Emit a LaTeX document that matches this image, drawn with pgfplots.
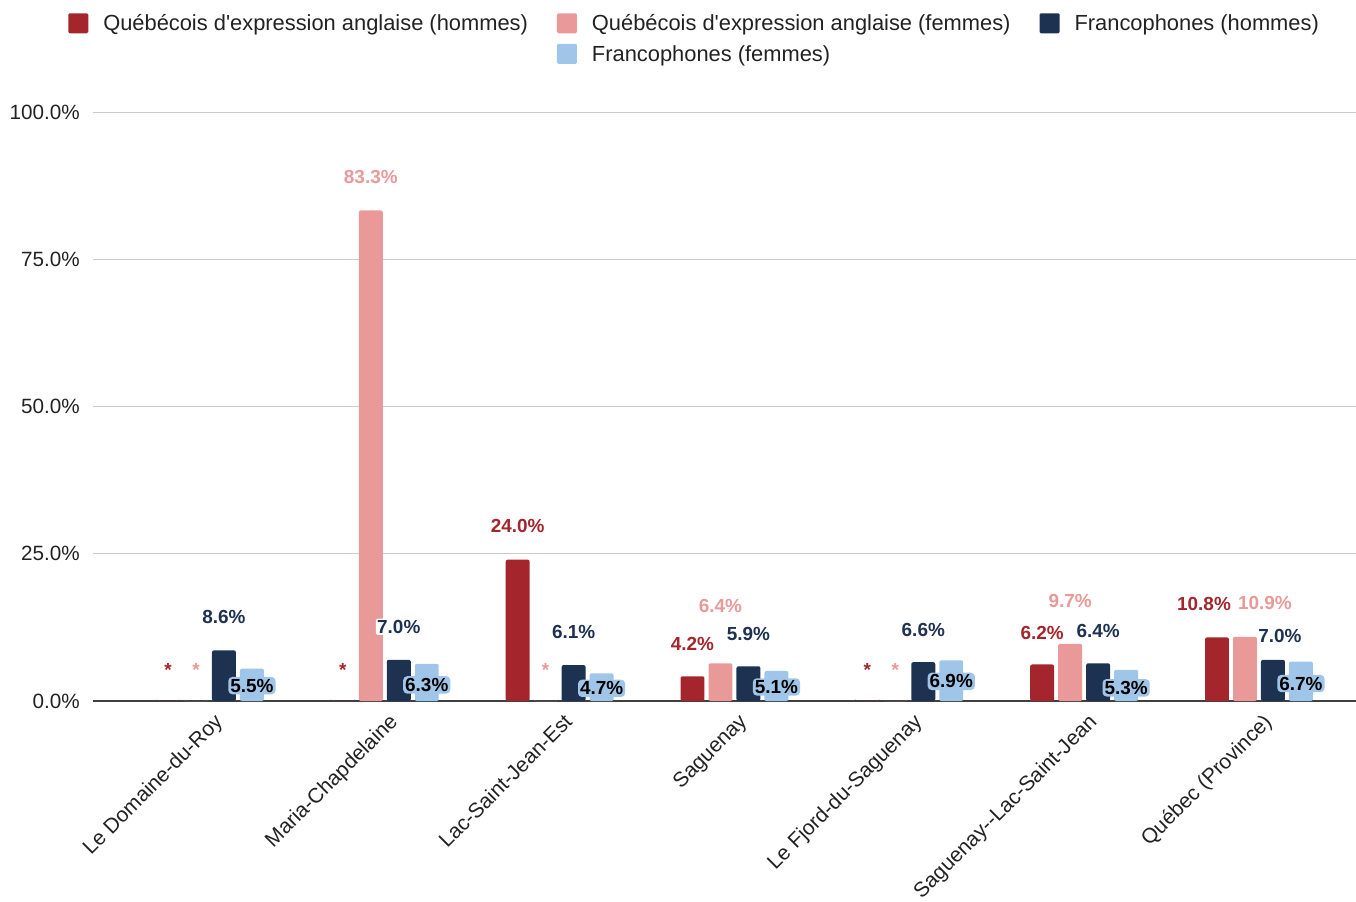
\documentclass[border=0pt]{standalone}
\usepackage{fontspec}
\setmainfont{Liberation Sans}
\usepackage{pgfplots}
\usepackage{pgfplotstable}
\pgfplotsset{compat=1.18}

\definecolor{cr}{HTML}{A4262C}
\definecolor{cp}{HTML}{EA9999}
\definecolor{cn}{HTML}{1D3150}
\definecolor{cl}{HTML}{9FC5E8}
\definecolor{txt}{HTML}{222222}
\newcommand\labfont{\fontsize{14.2}{16}\selectfont\bfseries}

% values in %, label text, label offsets in px (y up, x right)
\pgfplotstableread{
x r p n l rl pl nl ll ro po no lo rx px nx
0 0 0 8.6 5.5 * * 8.6\% 5.5\% 31 31 33 -17 0 0 0
1 0 83.3 7.0 6.3 * 83.3\% 7.0\% 6.3\% 31 33 33 -21 0 0 0
2 24.0 0 6.1 4.7 24.0\% * 6.1\% 4.7\% 34 31 33 -15 0 0 0
3 4.2 6.4 5.9 5.1 4.2\% 6.4\% 5.9\% 5.1\% 32 57 32 -16 0 0 0
4 0 0 6.6 6.9 * * 6.6\% 6.9\% 31 31 32 -21 0 0 0
5 6.2 9.7 6.4 5.3 6.2\% 9.7\% 6.4\% 5.3\% 32 43 32 -18 0 0 0
6 10.8 10.9 7.0 6.7 10.8\% 10.9\% 7.0\% 6.7\% 33 34 24 -22 -13 20 7
}\data

\begin{document}
\begin{tikzpicture}
\begin{axis}[
  scale only axis, width=947.25pt, height=441.75pt,
  ybar, bar width=0.137,
  xmin=-0.669, xmax=6.555, ymin=0, ymax=100,
  axis line style={draw=none},
  major tick length=0pt,
  ytick={0,25,50,75,100},
  ymajorgrids, grid style={draw=black!20, line width=0.75pt},
  extra y ticks={0}, extra y tick labels={},
  extra y tick style={grid style={draw=black!75, line width=1.2pt}},
  yticklabel={\pgfmathprintnumber[fixed,fixed zerofill,precision=1]{\tick}\%},
  /pgf/number format/assume math mode=true,
  yticklabel style={font=\fontsize{15.5}{18}\selectfont, text=txt, anchor=east, inner sep=0pt, xshift=-9.75pt},
  xtick={0,...,6},
  xticklabels={Le Domaine-du-Roy, Maria-Chapdelaine, Lac-Saint-Jean-Est, Saguenay, Le Fjord-du-Saguenay, Saguenay{-}{-}Lac-Saint-Jean, Québec (Province)},
  xticklabel style={font=\fontsize{15.7}{18}\selectfont, text=txt, xshift=2.25pt, yshift=-8.25pt, rotate=45, anchor=north east, inner sep=0pt},
  legend columns=3,
  legend cell align=left,
  legend style={at={(0,1)}, anchor=north west, xshift=-18.75pt, yshift=74.25pt,
    draw=none, fill=none, inner sep=0pt, text=txt,
    font=\fontsize{16.4}{19}\selectfont, row sep=7.75pt,
    nodes={inner sep=0pt, text height=0.72em, text depth=0.21em},
    /tikz/every odd column/.append style={column sep=11.25pt},
    /tikz/every even column/.append style={column sep=21.75pt}},
  legend image code/.code={\fill[#1, rounded corners=1pt] (0pt,-4.5pt) rectangle (15pt,10.5pt);},
]
\addplot[draw=none, fill=cr, bar shift=-0.24, rounded corners=1.5pt,
  point meta=explicit symbolic, nodes near coords,
  visualization depends on={\thisrow{ro} \as \myoff},
  visualization depends on={\thisrow{rx} \as \myx},
  every node near coord/.append style={font=\labfont, text=cr, fill=white, inner sep=1pt,
    anchor=center, yshift=\myoff*0.75pt, xshift=\myx*0.75pt}]
  table[x=x, y=r, meta=rl] {\data};
\addlegendentry{Québécois d\textquotesingle expression anglaise (hommes)}
\addplot[draw=none, fill=cp, bar shift=-0.08, rounded corners=1.5pt,
  point meta=explicit symbolic, nodes near coords,
  visualization depends on={\thisrow{po} \as \myoff},
  visualization depends on={\thisrow{px} \as \myx},
  every node near coord/.append style={font=\labfont, text=cp, fill=white, inner sep=1pt,
    anchor=center, yshift=\myoff*0.75pt, xshift=\myx*0.75pt}]
  table[x=x, y=p, meta=pl] {\data};
\addlegendentry{Québécois d\textquotesingle expression anglaise (femmes)}
\addplot[draw=none, fill=cn, bar shift=0.08, rounded corners=1.5pt,
  point meta=explicit symbolic, nodes near coords,
  visualization depends on={\thisrow{no} \as \myoff},
  visualization depends on={\thisrow{nx} \as \myx},
  every node near coord/.append style={font=\labfont, text=cn, fill=white, inner sep=1pt,
    anchor=center, yshift=\myoff*0.75pt, xshift=\myx*0.75pt}]
  table[x=x, y=n, meta=nl] {\data};
\addlegendentry{Francophones (hommes)}
\addlegendimage{empty legend}
\addlegendentry{}
\addplot[draw=none, fill=cl, bar shift=0.24, rounded corners=1.5pt,
  point meta=explicit symbolic, nodes near coords,
  visualization depends on={\thisrow{lo} \as \myoff},
  every node near coord/.append style={font=\labfont, text=black, fill=cl, inner sep=1.5pt,
    rounded corners=3pt, anchor=center, yshift=\myoff*0.75pt}]
  table[x=x, y=l, meta=ll] {\data};
\addlegendentry{Francophones (femmes)}
\coordinate (sw) at (rel axis cs:0,0);
\end{axis}
\pgfresetboundingbox
\path[use as bounding box] ([shift={(-69.75pt,-150pt)}]sw) rectangle ([shift={(947.25pt,525.75pt)}]sw);
\end{tikzpicture}
\end{document}
